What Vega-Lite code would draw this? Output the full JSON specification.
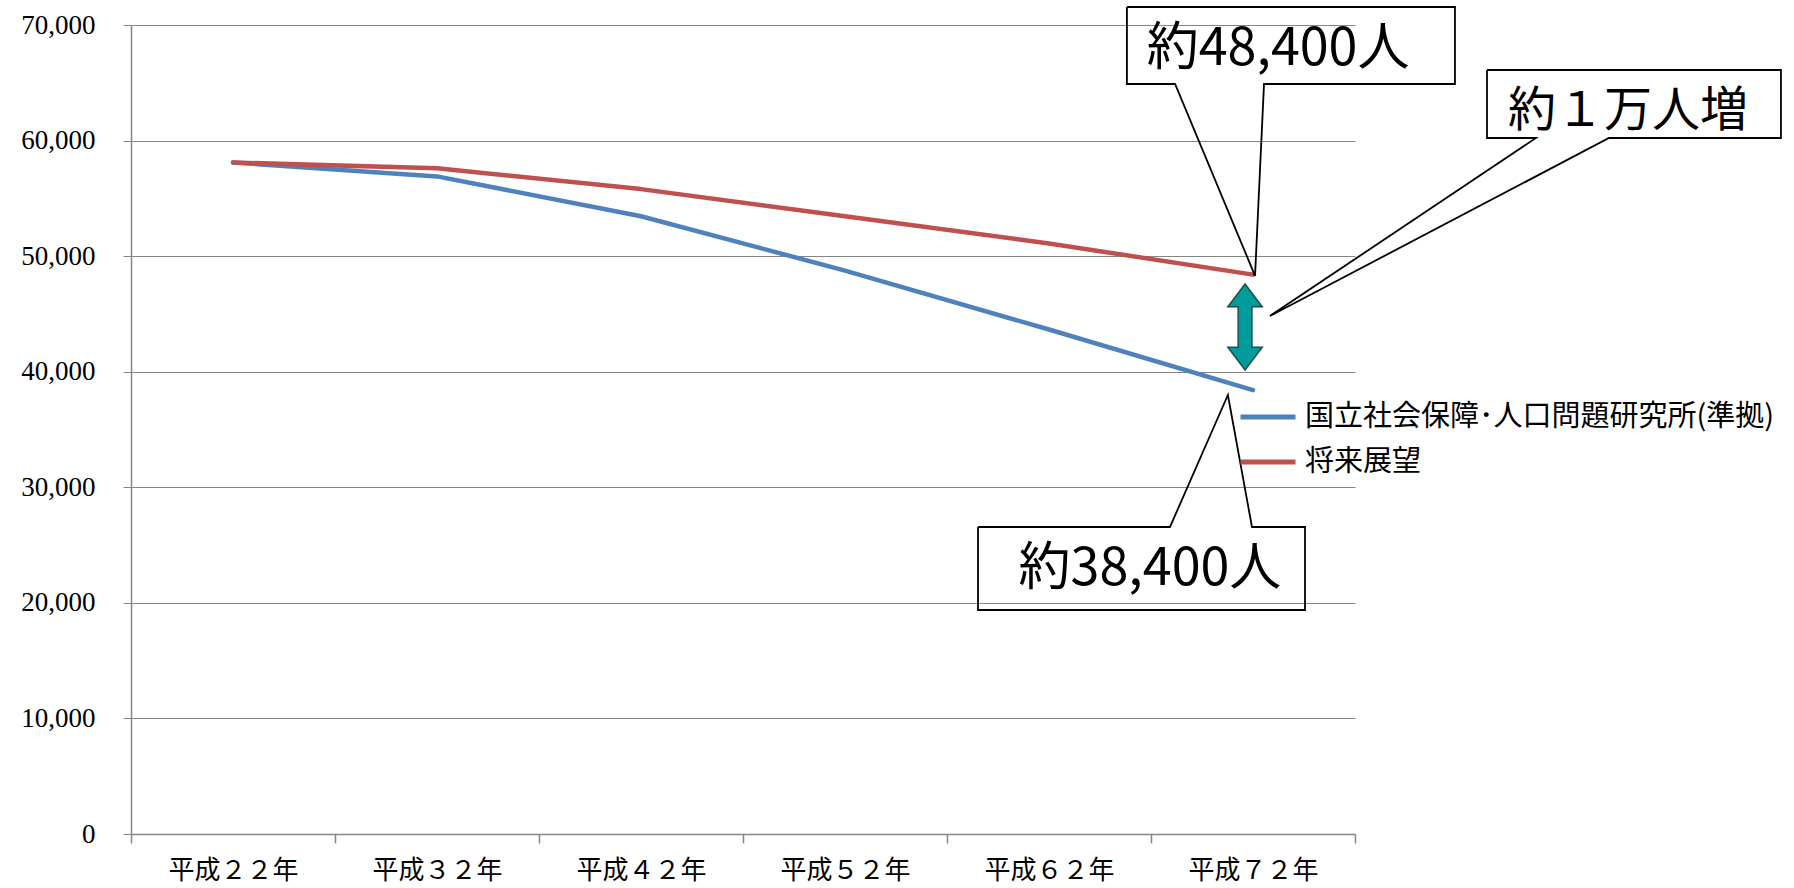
{
  "$schema": "https://vega.github.io/schema/vega-lite/v6.json",
  "width": 1224,
  "height": 809,
  "autosize": {"type": "none"},
  "padding": {"left": 131, "top": 25, "right": 439, "bottom": 54},
  "background": "white",
  "config": {"view": {"stroke": null}},
  "resolve": {"scale": {"x": "independent", "y": "independent"}, "axis": {"x": "independent", "y": "independent"}},
  "layer": [
    {
      "data": {"values": [
        {"period": "平成２２年", "series": "国立社会保障･人口問題研究所(準拠)", "value": 58100},
        {"period": "平成３２年", "series": "国立社会保障･人口問題研究所(準拠)", "value": 56900},
        {"period": "平成４２年", "series": "国立社会保障･人口問題研究所(準拠)", "value": 53450},
        {"period": "平成５２年", "series": "国立社会保障･人口問題研究所(準拠)", "value": 48750},
        {"period": "平成６２年", "series": "国立社会保障･人口問題研究所(準拠)", "value": 43650},
        {"period": "平成７２年", "series": "国立社会保障･人口問題研究所(準拠)", "value": 38400},
        {"period": "平成２２年", "series": "将来展望", "value": 58100},
        {"period": "平成３２年", "series": "将来展望", "value": 57600},
        {"period": "平成４２年", "series": "将来展望", "value": 55800},
        {"period": "平成５２年", "series": "将来展望", "value": 53450},
        {"period": "平成６２年", "series": "将来展望", "value": 51100},
        {"period": "平成７２年", "series": "将来展望", "value": 48400}
      ]},
      "mark": {"type": "line", "strokeWidth": 4.5, "strokeCap": "round", "strokeJoin": "round"},
      "encoding": {
        "x": {
          "field": "period", "type": "nominal", "sort": null,
          "scale": {"type": "band", "paddingInner": 0, "paddingOuter": 0},
          "axis": {
            "title": null, "labelAngle": 0, "tickBand": "extent",
            "labelFont": "Noto Sans CJK JP", "labelFontSize": 26, "labelColor": "#000000",
            "tickSize": 9, "labelPadding": 14,
            "domainColor": "#868686", "tickColor": "#868686", "domainWidth": 1.5, "tickWidth": 1.5
          }
        },
        "y": {
          "field": "value", "type": "quantitative",
          "scale": {"domain": [0, 70000], "nice": false, "zero": true},
          "axis": {
            "title": null, "values": [0, 10000, 20000, 30000, 40000, 50000, 60000, 70000],
            "format": ",.0f", "labelFont": "Liberation Serif", "labelFontSize": 27, "labelColor": "#000000",
            "tickSize": 8, "labelPadding": 28, "grid": true, "gridColor": "#868686", "gridWidth": 1,
            "domainColor": "#868686", "tickColor": "#868686", "domainWidth": 1.5, "tickWidth": 1
          }
        },
        "color": {
          "field": "series", "type": "nominal",
          "scale": {"domain": ["国立社会保障･人口問題研究所(準拠)", "将来展望"], "range": ["#4F81BD", "#C0504D"]},
          "legend": {
            "title": null, "orient": "none", "legendX": 1107, "legendY": 362,
            "symbolType": "stroke", "symbolSize": 3025, "symbolStrokeWidth": 5,
            "labelFont": "Noto Sans CJK JP", "labelFontSize": 29, "labelColor": "#000000",
            "labelOffset": 7, "rowPadding": 0, "padding": 0, "labelLimit": 600
          }
        }
      }
    },
    {
      "data": {"values": [
        {"xv": 5.461, "value": 43870}
      ]},
      "mark": {
        "type": "point", "filled": true, "fill": "#009b9b", "stroke": "#1d4f4f", "strokeWidth": 1.5, "opacity": 1,
        "shape": "M0,-1L0.4,-0.47L0.16,-0.47L0.16,0.47L0.4,0.47L0,1L-0.4,0.47L-0.16,0.47L-0.16,-0.47L-0.4,-0.47Z",
        "size": 7396
      },
      "encoding": {
        "x": {"field": "xv", "type": "quantitative", "scale": {"domain": [0, 6], "nice": false, "zero": false}, "axis": null},
        "y": {"field": "value", "type": "quantitative", "scale": {"domain": [0, 70000], "nice": false, "zero": false}, "axis": null}
      }
    },
    {
      "data": {"values": [
        {"id": "a", "i": 0, "xv": 4.882, "value": 71558},
        {"id": "a", "i": 1, "xv": 6.490, "value": 71558},
        {"id": "a", "i": 2, "xv": 6.490, "value": 64895},
        {"id": "a", "i": 3, "xv": 5.554, "value": 64895},
        {"id": "a", "i": 4, "xv": 5.510, "value": 48300},
        {"id": "a", "i": 5, "xv": 5.118, "value": 64895},
        {"id": "a", "i": 6, "xv": 4.882, "value": 64895},
        {"id": "a", "i": 7, "xv": 4.882, "value": 71558},
        {"id": "b", "i": 0, "xv": 6.647, "value": 66107},
        {"id": "b", "i": 1, "xv": 8.088, "value": 66107},
        {"id": "b", "i": 2, "xv": 8.088, "value": 60223},
        {"id": "b", "i": 3, "xv": 7.245, "value": 60223},
        {"id": "b", "i": 4, "xv": 5.583, "value": 44821},
        {"id": "b", "i": 5, "xv": 6.887, "value": 60223},
        {"id": "b", "i": 6, "xv": 6.647, "value": 60223},
        {"id": "b", "i": 7, "xv": 6.647, "value": 66107},
        {"id": "c", "i": 0, "xv": 4.152, "value": 26564},
        {"id": "c", "i": 1, "xv": 5.093, "value": 26564},
        {"id": "c", "i": 2, "xv": 5.377, "value": 37985},
        {"id": "c", "i": 3, "xv": 5.495, "value": 26564},
        {"id": "c", "i": 4, "xv": 5.755, "value": 26564},
        {"id": "c", "i": 5, "xv": 5.755, "value": 19382},
        {"id": "c", "i": 6, "xv": 4.152, "value": 19382},
        {"id": "c", "i": 7, "xv": 4.152, "value": 26564}
      ]},
      "mark": {"type": "line", "color": "#000000", "strokeWidth": 1.8, "strokeJoin": "miter"},
      "encoding": {
        "x": {"field": "xv", "type": "quantitative", "scale": {"domain": [0, 6], "nice": false, "zero": false}, "axis": null},
        "y": {"field": "value", "type": "quantitative", "scale": {"domain": [0, 70000], "nice": false, "zero": false}, "axis": null},
        "detail": {"field": "id", "type": "nominal"},
        "order": {"field": "i", "type": "quantitative"}
      }
    },
    {
      "data": {"values": [
        {"label": "約48,400人", "xv": 5.623, "value": 67923, "fs": "big"},
        {"label": "約38,400人", "xv": 4.995, "value": 22930, "fs": "big"},
        {"label": "約１万人増", "xv": 7.338, "value": 62472, "fs": "mid"}
      ]},
      "mark": {"type": "text", "font": "Noto Sans CJK JP", "align": "center", "baseline": "middle", "color": "#000000"},
      "encoding": {
        "x": {"field": "xv", "type": "quantitative", "scale": {"domain": [0, 6], "nice": false, "zero": false}, "axis": null},
        "y": {"field": "value", "type": "quantitative", "scale": {"domain": [0, 70000], "nice": false, "zero": false}, "axis": null},
        "text": {"field": "label"},
        "size": {"field": "fs", "type": "nominal", "scale": {"domain": ["big", "mid"], "range": [52, 48]}, "legend": null}
      }
    }
  ]
}
